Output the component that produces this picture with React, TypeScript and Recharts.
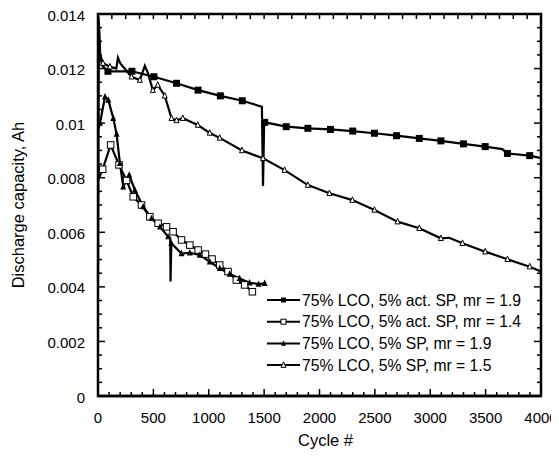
import { LineChart, Line, XAxis, YAxis, Legend, ReferenceArea } from 'recharts'

const FONT = '"Liberation Sans", Arial, Helvetica, sans-serif'

const xTickLabels = [0, 500, 1000, 1500, 2000, 2500, 3000, 3500, 4000]
const yTickLabels = [0, 0.002, 0.004, 0.006, 0.008, 0.01, 0.012, 0.014]

// 75% LCO, 5% act. SP, mr = 1.9 (filled squares)
const actSp19Cycle = [0, 5, 15, 40, 90, 306, 505, 709, 904, 1105, 1303, 1480, 1490, 1500, 1505, 1700, 1895, 2099, 2300, 2496, 2696, 2901, 3096, 3300, 3496, 3650, 3697, 3898, 4000]
const actSp19Cap = [0.0122, 0.0139, 0.0125, 0.0121, 0.0119, 0.0119, 0.0117, 0.01146, 0.01121, 0.011, 0.01082, 0.0106, 0.0077, 0.0100, 0.01003, 0.00987, 0.00981, 0.00977, 0.00971, 0.00963, 0.00954, 0.00944, 0.00935, 0.00924, 0.00914, 0.00905, 0.00889, 0.00881, 0.00872]
const actSp19Plain = [0, 5, 15, 40, 1480, 1490, 1500, 3650, 4000]

// 75% LCO, 5% act. SP, mr = 1.4 (open squares)
const actSp14Cycle = [0, 42, 114, 190, 258, 318, 393, 468, 543, 619, 678, 754, 829, 904, 970, 1030, 1099, 1174, 1249, 1324, 1394]
const actSp14Cap = [0.0079, 0.00831, 0.0092, 0.00847, 0.0079, 0.0073, 0.007, 0.00657, 0.00633, 0.0062, 0.00602, 0.00572, 0.00553, 0.00535, 0.0052, 0.00502, 0.0048, 0.00456, 0.00425, 0.00407, 0.00382]
const actSp14Plain = [0]

// 75% LCO, 5% SP, mr = 1.9 (filled triangles)
const sp19Cycle = [5, 18, 63, 93, 138, 168, 198, 228, 282, 333, 408, 483, 559, 633, 652, 655, 662, 754, 829, 919, 1009, 1099, 1189, 1279, 1369, 1450, 1505]
const sp19Cap = [0.0098, 0.0100, 0.01097, 0.01085, 0.01018, 0.0096, 0.00853, 0.00767, 0.0081, 0.00755, 0.00694, 0.00651, 0.0062, 0.00584, 0.0058, 0.0042, 0.0056, 0.00522, 0.00525, 0.00517, 0.00492, 0.00468, 0.00447, 0.00431, 0.00415, 0.0041, 0.00413]
const sp19Plain = [5, 652, 655]

// 75% LCO, 5% SP, mr = 1.5 (open triangles)
const sp15Cycle = [0, 8, 20, 45, 108, 165, 180, 200, 303, 378, 423, 450, 495, 540, 603, 664, 709, 766, 901, 1009, 1099, 1300, 1490, 1685, 1895, 2090, 2297, 2496, 2705, 2901, 3096, 3171, 3291, 3496, 3697, 3898, 4000]
const sp15Cap = [0.0042, 0.0137, 0.0125, 0.0122, 0.01207, 0.012, 0.0124, 0.0122, 0.0117, 0.01158, 0.0121, 0.01184, 0.01121, 0.0114, 0.011, 0.01018, 0.0101, 0.01018, 0.00993, 0.00964, 0.00946, 0.009, 0.00871, 0.00828, 0.00773, 0.00743, 0.00718, 0.00682, 0.00639, 0.00615, 0.00578, 0.0058, 0.0056, 0.00529, 0.00501, 0.00474, 0.00456]
const sp15Plain = [0, 8, 20, 165, 180, 200, 423, 450, 3171, 4000]

const toRows = (cycles: number[], caps: number[], plain: number[]) =>
  cycles.map((c, i) => ({ cycle: c, cap: caps[i], mark: !plain.includes(c) }))

type Shape = 'square' | 'openSquare' | 'triangle' | 'openTriangle'

const series: { name: string; shape: Shape; size: number; data: any[] }[] = [
  { name: '75% LCO, 5% act. SP, mr = 1.9', shape: 'square', size: 7, data: toRows(actSp19Cycle, actSp19Cap, actSp19Plain) },
  { name: '75% LCO, 5% act. SP, mr = 1.4', shape: 'openSquare', size: 6.5, data: toRows(actSp14Cycle, actSp14Cap, actSp14Plain) },
  { name: '75% LCO, 5% SP, mr = 1.9', shape: 'triangle', size: 6, data: toRows(sp19Cycle, sp19Cap, sp19Plain) },
  { name: '75% LCO, 5% SP, mr = 1.5', shape: 'openTriangle', size: 5, data: toRows(sp15Cycle, sp15Cap, sp15Plain) },
]

const xMinor = Array.from({ length: 41 }, (_, i) => i * 100)
const xTopTicks = Array.from({ length: 33 }, (_, i) => i * 125)
const yMinor = Array.from({ length: 29 }, (_, i) => i * 0.0005)

function marker(shape: Shape, x: number, y: number, s: number, key?: string) {
  if (shape === 'square' || shape === 'openSquare') {
    const open = shape === 'openSquare'
    return (
      <rect key={key} x={x - s / 2} y={y - s / 2} width={s} height={s}
        fill={open ? '#fff' : '#000'} stroke="#000" strokeWidth={open ? 1 : 0} />
    )
  }
  const open = shape === 'openTriangle'
  const h = s * 0.9
  return (
    <polygon key={key} points={`${x},${y - h / 2 - 1} ${x - s / 2},${y + h / 2} ${x + s / 2},${y + h / 2}`}
      fill={open ? '#fff' : '#000'} stroke="#000" strokeWidth={open ? 1 : 0} />
  )
}

const makeDot = (shape: Shape, size: number) => (props: any) => {
  const { cx, cy, index, payload } = props
  if (!payload || !payload.mark) return <g key={`e${index}`} />
  return marker(shape, cx, cy, size, `d${index}`)
}

// tick marks as thin rects pointing into the plot
const BottomTick = (props: any) => {
  const { x, y, payload } = props
  const v = payload.value
  const major = v % 500 === 0
  const len = major ? 7 : 4
  return (
    <g>
      <rect x={x - 0.75} y={y - len} width={1.5} height={len} fill="#000" />
      {major && xTickLabels.includes(v) && (
        <text x={x} y={y + 27} textAnchor="middle" fontSize={15} fontFamily={FONT} fill="#000">{v}</text>
      )}
    </g>
  )
}

const TopTick = (props: any) => {
  const { x, y } = props
  return <rect x={x - 0.75} y={y} width={1.5} height={5} fill="#000" />
}

const isMajorY = (v: number) => Math.round(v * 10000) % 20 === 0

const LeftTick = (props: any) => {
  const { x, y, payload } = props
  const v = payload.value
  const major = isMajorY(v)
  const label = yTickLabels.find((t) => Math.abs(t - v) < 1e-9)
  return (
    <g>
      <rect x={x} y={y - 0.75} width={major ? 7 : 4} height={1.5} fill="#000" />
      {label !== undefined && (
        <text x={x - 13} y={y + 6.5} textAnchor="end" fontSize={15} fontFamily={FONT} fill="#000">{String(label)}</text>
      )}
    </g>
  )
}

const RightTick = (props: any) => {
  const { x, y, payload } = props
  const len = isMajorY(payload.value) ? 7 : 4
  return <rect x={x - len} y={y - 0.75} width={len} height={1.5} fill="#000" />
}

const XTitle = (props: any) => {
  const vb = props.viewBox
  return (
    <text x={vb.x + vb.width / 2 + 6} y={vb.y + 50} textAnchor="middle" fontSize={16.5} fontFamily={FONT} fill="#000">
      Cycle #
    </text>
  )
}

const YTitle = (props: any) => {
  const vb = props.viewBox
  const cx = vb.x + 10
  const cy = vb.y + vb.height / 2
  return (
    <text x={cx} y={cy} transform={`rotate(-90, ${cx}, ${cy})`} textAnchor="middle" dominantBaseline="central"
      fontSize={16.5} fontFamily={FONT} fill="#000">
      Discharge capacity, Ah
    </text>
  )
}

const LegendBox = () => (
  <svg width={290} height={92} style={{ display: 'block' }}>
    {series.map((s, i) => {
      const y = 12 + i * 21.7
      return (
        <g key={s.name}>
          <line x1={5} x2={38} y1={y} y2={y} stroke="#000" strokeWidth={2} />
          {marker(s.shape, 21.5, y, 5)}
          <text x={40} y={y + 5.5} fontSize={15.7} fontFamily={FONT} fill="#000">{s.name}</text>
        </g>
      )
    })}
  </svg>
)

export default function App() {
  return (
    <div style={{ width: 551, height: 445, fontFamily: FONT }}>
      <LineChart width={551} height={445} margin={{ top: 5, right: 17, bottom: 0, left: 0 }}
        style={{ overflow: 'visible' }}>
        <XAxis dataKey="cycle" type="number" domain={[0, 4000]} ticks={xMinor} interval={0}
          height={57} tickSize={0} tickMargin={0} tickLine={false} tick={<BottomTick />}
          axisLine={{ stroke: '#000', strokeWidth: 2.5 }} label={<XTitle />} />
        <XAxis xAxisId="top" orientation="top" dataKey="cycle" type="number" domain={[0, 4000]} allowDataOverflow
          ticks={xTopTicks} interval={0} height={1} tickSize={0} tickMargin={0} tickLine={false} tick={<TopTick />}
          axisLine={false} />
        <YAxis type="number" domain={[0, 0.014]} ticks={yMinor} interval={0} width={90}
          tickSize={0} tickMargin={0} tickLine={false} tick={<LeftTick />}
          axisLine={false} label={<YTitle />} />
        <YAxis yAxisId="right" orientation="right" type="number" domain={[0, 0.014]} allowDataOverflow
          ticks={yMinor} interval={0} width={1} tickSize={0} tickMargin={0} tickLine={false} tick={<RightTick />}
          axisLine={false} />
        <ReferenceArea x1={0} x2={4000} y1={0} y2={0.014} fill="none" fillOpacity={0}
          stroke="#000" strokeWidth={2.5} strokeOpacity={1} ifOverflow="visible" />
        <Legend layout="vertical" align="center" verticalAlign="middle"
          wrapperStyle={{ left: 254, top: 280, width: 290, height: 92 }} content={<LegendBox />} />
        {series.map((s) => (
          <Line key={s.name} data={s.data} dataKey="cap" type="linear" stroke="#000" strokeWidth={2.2}
            dot={makeDot(s.shape, s.size)} activeDot={false} isAnimationActive={false} />
        ))}
      </LineChart>
    </div>
  )
}
